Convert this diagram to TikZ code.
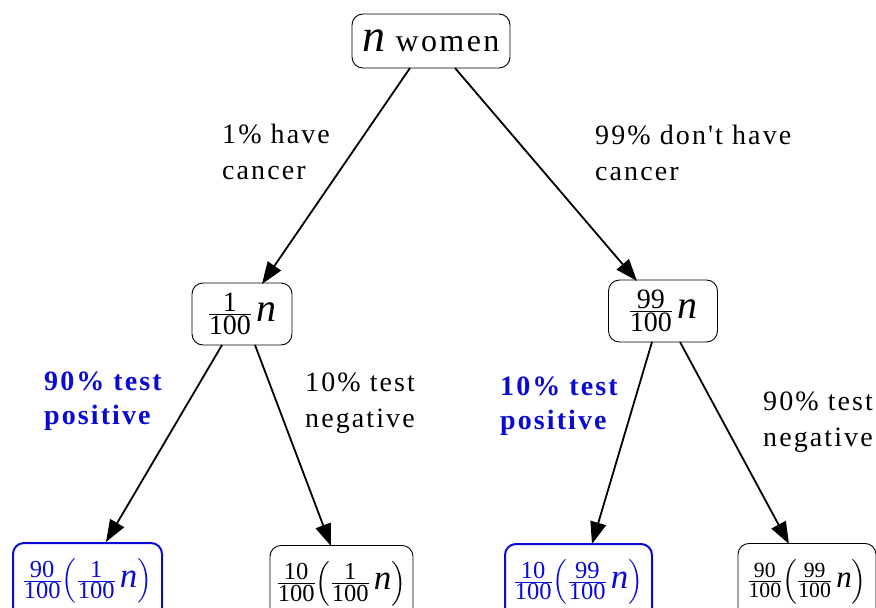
\documentclass[tikz,border=0pt]{standalone}
\usepackage{amsmath}
\usepackage{fontspec}
\setmainfont{Liberation Serif}
\usetikzlibrary{arrows.meta}
\definecolor{myblue}{RGB}{10,10,210}
\newfontfamily\spaced[LetterSpace=7.5]{Liberation Serif}
\newcommand{\vn}{\text{\itshape n}}
\newcommand{\fr}[2]{\frac{\text{#1}}{\text{#2}}}
\begin{document}
\begin{tikzpicture}[x=1pt,y=-1pt,
  box/.style={draw,rounded corners=11pt,line width=0.9pt,inner sep=0pt,font=\fontsize{40}{44}\selectfont},
  bluebox/.style={box,draw=myblue,text=myblue,line width=2pt},
  lbl/.style={align=left,anchor=north west,inner sep=0pt,font=\fontsize{28}{35.5}\spaced},
  blbl/.style={lbl,text=myblue,font=\fontsize{28}{34}\spaced\bfseries},
  arr/.style={line width=1.8pt,-{Triangle[length=22pt,width=16pt]}}]
\useasboundingbox (0,0) rectangle (876,608);
\node[box,minimum width=158pt,minimum height=54pt] (top) at (431,41) {{\fontsize{46}{50}\selectfont$\vn$} {\fontsize{32}{36}\spaced women}};
\node[box,minimum width=100pt,minimum height=62pt] (ml) at (242,314) {$\fr{1}{100}\,\vn$};
\node[box,minimum width=109pt,minimum height=62pt] (mr) at (663,311) {$\fr{99}{100}\,\vn$};
\node[bluebox,minimum width=149pt,minimum height=76pt,anchor=north,font=\fontsize{35}{40}\selectfont] (ll) at (87.5,542) {$\fr{90}{100}\!\left(\fr{1}{100}\,\vn\right)$};
\node[box,minimum width=143pt,minimum height=76pt,anchor=north,font=\fontsize{35}{40}\selectfont] (lr) at (341.5,545) {$\fr{10}{100}\!\left(\fr{1}{100}\,\vn\right)$};
\node[bluebox,minimum width=147pt,minimum height=76pt,anchor=north,font=\fontsize{35}{40}\selectfont] (rl) at (578.5,543) {$\fr{10}{100}\!\left(\fr{99}{100}\,\vn\right)$};
\node[box,minimum width=138pt,minimum height=76pt,anchor=north,font=\fontsize{31}{36}\selectfont] (rr) at (807,543) {$\fr{90}{100}\!\left(\fr{99}{100}\,\vn\right)$};
\coordinate (a1) at (410,68); \coordinate (b1) at (262,284);
\coordinate (a2) at (455,68); \coordinate (b2) at (637,281);
\coordinate (a3) at (222,345); \coordinate (b3) at (106,542);
\coordinate (a4) at (255,345); \coordinate (b4) at (331,546);
\coordinate (a5) at (652,342); \coordinate (b5) at (592,544);
\coordinate (a6) at (680,342); \coordinate (b6) at (789,544);
\draw[arr] (a1) -- (b1);
\draw[arr] (a2) -- (b2);
\draw[arr] (a3) -- (b3);
\draw[arr] (a4) -- (b4);
\draw[arr] (a5) -- (b5);
\draw[arr] (a6) -- (b6);
\node[lbl] (t1) at (222,124) {1\% have\\cancer};
\node[lbl] (t2) at (595,125) {99\% don't have\\cancer};
\node[blbl] (t3) at (44,372) {90\% test\\positive};
\node[lbl] (t4) at (305,373) {10\% test\\negative};
\node[blbl] (t5) at (500,377) {10\% test\\positive};
\node[lbl] (t6) at (763,392) {90\% test\\negative};
\end{tikzpicture}
\end{document}
